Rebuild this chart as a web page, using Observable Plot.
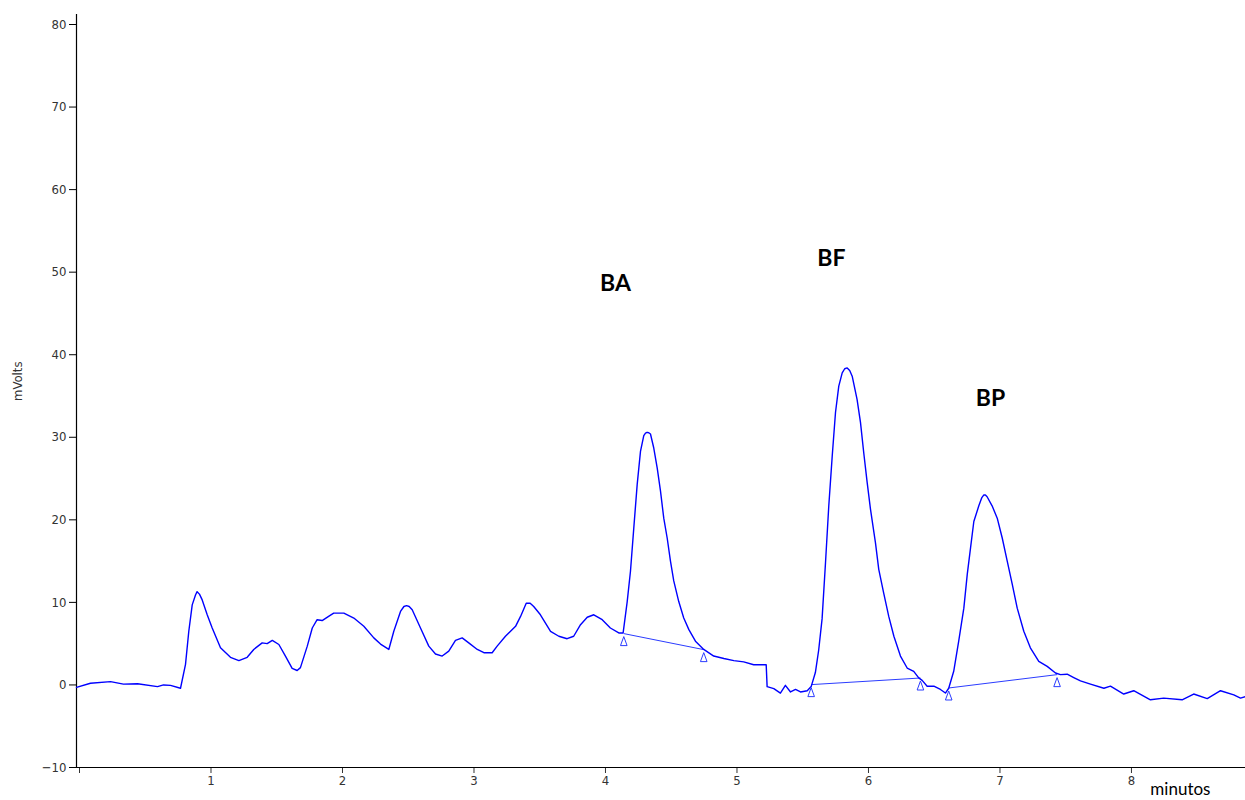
<!DOCTYPE html>
<html>
<head>
<meta charset="utf-8">
<script src="https://cdn.jsdelivr.net/npm/d3@7"></script>
<script src="https://cdn.jsdelivr.net/npm/@observablehq/plot@0.6"></script>
<style>
  html, body { margin: 0; padding: 0; background: #fff; }
  #chart svg { display: block; }
</style>
</head>
<body>
<div id="chart"></div>
<script>
// Chromatogram trace: retention time (min) and signal (mV)
const time = [0.000,0.106,0.259,0.357,0.464,0.616,0.662,0.715,0.791,0.829,0.854,0.880,0.905,0.917,0.935,0.956,0.994,1.032,1.095,1.171,1.235,1.298,1.348,1.412,1.450,1.489,1.539,1.589,1.640,1.678,1.703,1.755,1.793,1.830,1.868,1.926,1.956,2.033,2.109,2.185,2.261,2.312,2.375,2.413,2.464,2.490,2.510,2.530,2.553,2.616,2.679,2.730,2.781,2.831,2.882,2.933,2.983,3.048,3.098,3.161,3.199,3.262,3.339,3.377,3.420,3.450,3.477,3.528,3.605,3.668,3.731,3.781,3.833,3.884,3.934,3.998,4.060,4.124,4.157,4.188,4.213,4.238,4.264,4.289,4.314,4.327,4.339,4.352,4.365,4.390,4.416,4.441,4.466,4.492,4.517,4.542,4.580,4.618,4.657,4.707,4.770,4.846,4.923,4.999,5.074,5.150,5.245,5.252,5.303,5.353,5.391,5.430,5.468,5.506,5.557,5.587,5.619,5.644,5.670,5.696,5.721,5.747,5.772,5.797,5.823,5.842,5.861,5.880,5.899,5.936,5.962,5.987,6.013,6.038,6.076,6.101,6.139,6.177,6.216,6.266,6.317,6.367,6.405,6.431,6.469,6.520,6.570,6.608,6.633,6.671,6.709,6.748,6.774,6.799,6.824,6.862,6.885,6.899,6.912,6.925,6.963,7.002,7.040,7.078,7.116,7.154,7.204,7.254,7.318,7.382,7.445,7.483,7.534,7.584,7.635,7.711,7.813,7.863,7.964,8.040,8.167,8.268,8.408,8.496,8.599,8.700,8.801,8.852,8.890];
const mv = [-0.3,0.2,0.4,0.1,0.15,-0.2,0.0,-0.05,-0.4,2.5,6.5,9.7,10.9,11.3,11.0,10.3,8.5,6.9,4.5,3.35,2.95,3.35,4.3,5.1,5.0,5.4,4.9,3.5,2.0,1.75,2.1,4.7,6.9,7.9,7.8,8.4,8.7,8.7,8.1,7.1,5.7,4.95,4.3,6.5,8.9,9.5,9.6,9.5,9.1,6.9,4.7,3.75,3.5,4.1,5.4,5.7,5.1,4.3,3.9,3.9,4.7,5.9,7.1,8.3,9.9,9.9,9.5,8.5,6.5,5.9,5.6,5.9,7.3,8.2,8.5,7.9,6.9,6.3,6.3,10.1,13.8,19.0,24.3,28.3,30.2,30.5,30.6,30.55,30.4,28.7,26.3,23.5,20.2,17.8,15.0,12.6,10.1,8.1,6.7,5.3,4.3,3.5,3.2,2.95,2.8,2.45,2.45,-0.2,-0.45,-1.0,-0.05,-0.85,-0.55,-0.85,-0.7,-0.2,1.5,4.2,8.0,14.8,21.7,27.7,33.0,36.2,37.8,38.3,38.4,38.1,37.4,34.6,31.8,28.1,24.5,21.3,17.2,14.0,11.1,8.3,5.9,3.5,2.05,1.65,0.85,0.55,-0.15,-0.15,-0.55,-0.98,-0.4,1.65,5.3,9.3,13.4,16.6,19.8,21.7,22.7,23.0,23.0,22.8,21.7,20.2,17.8,15.0,12.2,9.3,6.5,4.5,2.85,2.25,1.45,1.25,1.3,0.9,0.5,0.1,-0.4,-0.15,-1.1,-0.7,-1.8,-1.6,-1.8,-1.1,-1.65,-0.7,-1.2,-1.6,-1.4];

// Integration baselines (start/end points of each peak)
const peakNames = ["BA", "BF", "BP"];
const baseStartT = [4.162, 5.587, 6.633];
const baseStartV = [6.22, 0.04, -0.37];
const baseEndT = [4.770, 6.418, 7.457];
const baseEndV = [4.28, 0.84, 1.25];

// Peak label positions
const labelT = [4.099, 5.741, 6.951];
const labelV = [48.6, 51.7, 34.7];

// Axis ticks
const xTicks = [0, 1, 2, 3, 4, 5, 6, 7, 8];
const yTicks = [-10, 0, 10, 20, 30, 40, 50, 60, 70, 80];

const trace = time.map((t, i) => ({t, v: mv[i]}));
const baselines = peakNames.map((n, i) => ({n, t1: baseStartT[i], v1: baseStartV[i], t2: baseEndT[i], v2: baseEndV[i]}));
const markers = baselines.flatMap(b => [{t: b.t1, v: b.v1}, {t: b.t2, v: b.v2}]);
const labels = peakNames.map((n, i) => ({n, t: labelT[i], v: labelV[i]}));

// tall narrow open triangle used by the integrator to mark peak start/end
const tallTriangle = {
  draw(context, size) {
    context.moveTo(0, -4.5);
    context.lineTo(3.3, 4.5);
    context.lineTo(-3.3, 4.5);
    context.closePath();
  }
};

const tickFont = "'Liberation Sans Narrow', 'DejaVu Sans Condensed', 'Liberation Sans', sans-serif";

const chart = Plot.plot({
  width: 1245,
  height: 800,
  marginTop: 24,
  marginBottom: 33,
  marginLeft: 76,
  marginRight: 0,
  style: {fontFamily: tickFont, fontSize: "13px", color: "#333", background: "#fff"},
  x: {domain: [0, 8.89]},
  y: {domain: [-10, 80]},
  marks: [
    Plot.axisY({ticks: yTicks, tickSize: 7, tickPadding: 3, label: null, fontSize: 13, stroke: "#000"}),
    Plot.axisX({ticks: xTicks, tickSize: 6, tickPadding: 2, label: null, dx: 3, tickFormat: d => d === 0 ? "" : String(d), fontSize: 13}),
    Plot.ruleX([0], {y1: -10, y2: 81.2, stroke: "#000", strokeWidth: 1.2}),
    Plot.ruleY([-10], {stroke: "#000", strokeWidth: 1.2}),
    Plot.link(baselines, {x1: "t1", y1: "v1", x2: "t2", y2: "v2", stroke: "#2b3cff", strokeWidth: 1}),
    Plot.line(trace, {x: "t", y: "v", stroke: "#0000ff", strokeWidth: 1.4, curve: "linear"}),
    Plot.dot(markers, {x: "t", y: "v", symbol: tallTriangle, r: 3, dy: 7.5, stroke: "#2b3cff", fill: "#fff", strokeWidth: 1}),
    Plot.text(labels, {x: "t", y: "v", text: "n", fontSize: 23, fontWeight: "bold", fill: "#000", fontFamily: "Lato, 'Open Sans', sans-serif"}),
    Plot.text(["mVolts"], {frameAnchor: "left", y: 34.4, dx: -59, rotate: -90, fontSize: 13, fill: "#333", fontFamily: tickFont}),
    Plot.text(["minutos"], {frameAnchor: "bottom", x: 8.395, dy: 27, fontSize: 17, fill: "#000", fontFamily: "Lato, 'Open Sans', sans-serif"})
  ]
});

document.getElementById("chart").appendChild(chart);
</script>
</body>
</html>
